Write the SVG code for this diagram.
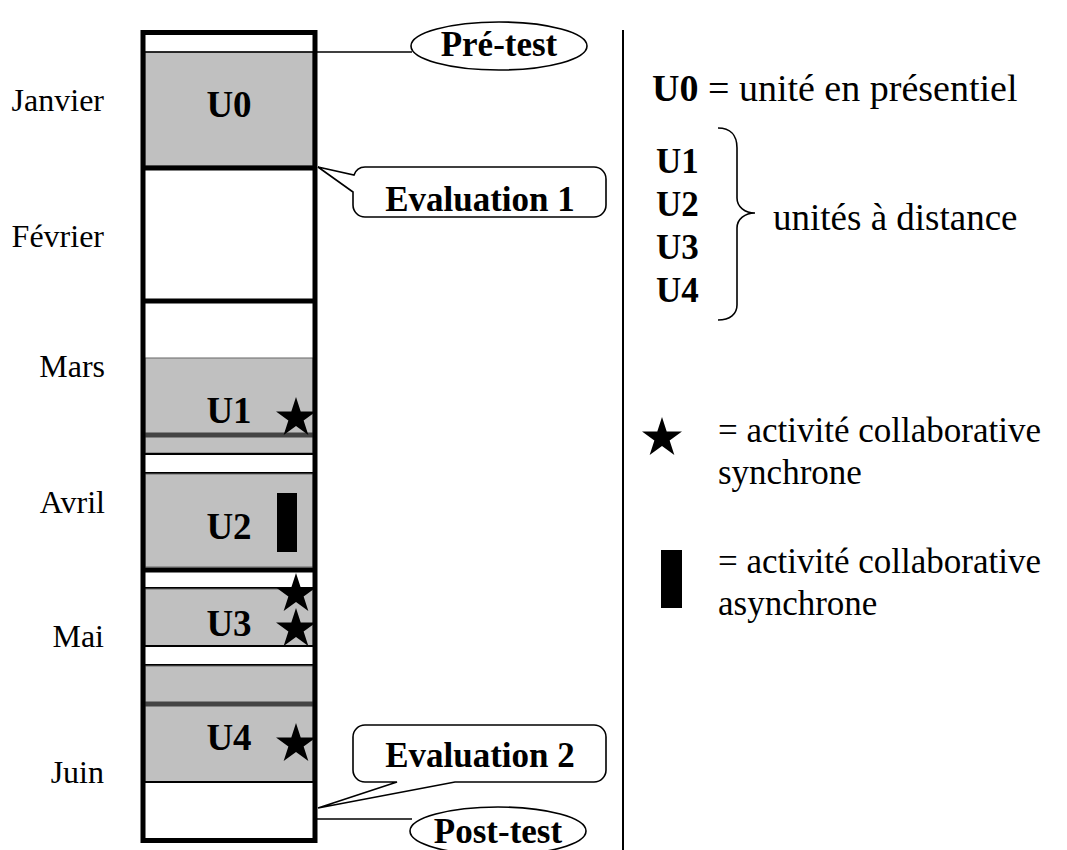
<svg xmlns="http://www.w3.org/2000/svg" width="1067" height="850" viewBox="0 0 1067 850">
<style>
.reg{font-family:"Liberation Serif","Times New Roman",serif;font-size:35px;fill:#000}
.mon{font-family:"Liberation Serif","Times New Roman",serif;font-size:32px;fill:#000;text-anchor:end}
.bold{font-family:"Liberation Serif","Times New Roman",serif;font-size:35px;font-weight:bold;fill:#000}
.ulab{font-family:"Liberation Serif","Times New Roman",serif;font-size:37px;font-weight:bold;fill:#000;text-anchor:middle}
.gray{fill:#c0c0c0;stroke:#666;stroke-width:1}
.thin{stroke:#000;stroke-width:2;fill:none}
.thick{stroke:#000;stroke-width:5;fill:none}
.dark{stroke:#444;stroke-width:5}
.shape{fill:#fff;stroke:#000;stroke-width:1.6}
</style>
<defs>
<path id="star" d="M0,-21 L4.71,-6.49 L19.97,-6.49 L7.63,2.48 L12.34,16.99 L0,8.02 L-12.34,16.99 L-7.63,2.48 L-19.97,-6.49 L-4.71,-6.49 Z" fill="#000"/>
</defs>
<rect width="1067" height="850" fill="#fff"/>

<g id="months">
<text class="mon" x="104" y="111">Janvier</text>
<text class="mon" x="104" y="247">Février</text>
<text class="mon" x="105" y="377">Mars</text>
<text class="mon" x="105" y="513">Avril</text>
<text class="mon" x="104" y="647">Mai</text>
<text class="mon" x="104" y="783">Juin</text>
</g>

<g id="timeline">
<rect x="143" y="32.5" width="172" height="808" fill="#fff"/>
<g id="U0">
<rect class="gray" x="145" y="52" width="168" height="114"/>
<text class="ulab" x="229" y="117">U0</text>
</g>
<line class="thick" x1="143" y1="168" x2="315" y2="168"/>
<line class="thick" x1="143" y1="301" x2="315" y2="301"/>
<g id="U1">
<rect class="gray" x="145" y="358" width="168" height="95"/>
<line class="dark" x1="145" y1="435" x2="313" y2="435"/>
<text class="ulab" x="229" y="423">U1</text>
<use href="#star" x="296" y="418"/>
</g>
<line class="thin" x1="145" y1="454" x2="313" y2="454"/>
<line class="thin" x1="145" y1="473" x2="313" y2="473"/>
<g id="U2">
<rect class="gray" x="145" y="474" width="168" height="93"/>
<text class="ulab" x="229" y="539">U2</text>
<rect x="277" y="493" width="20" height="59" fill="#000"/>
</g>
<line class="thick" x1="143" y1="570" x2="315" y2="570"/>
<line class="thin" x1="145" y1="588" x2="313" y2="588"/>
<g id="U3">
<rect class="gray" x="145" y="589" width="168" height="57"/>
<text class="ulab" x="229" y="636">U3</text>
<use href="#star" x="296" y="594"/>
<use href="#star" x="296" y="629"/>
</g>
<line class="thin" x1="145" y1="646" x2="313" y2="646"/>
<line class="thin" x1="145" y1="665" x2="313" y2="665"/>
<g id="U4">
<rect class="gray" x="145" y="666" width="168" height="116"/>
<line class="dark" x1="145" y1="704" x2="313" y2="704"/>
<text class="ulab" x="229" y="750">U4</text>
<use href="#star" x="296" y="744"/>
</g>
<line class="thin" x1="145" y1="782" x2="313" y2="782"/>
<rect class="thick" x="143" y="32.5" width="172" height="808"/>
</g>

<g id="connectors">
<line x1="145" y1="52" x2="412" y2="52" stroke="#000" stroke-width="1.6"/>
<line x1="317" y1="819" x2="412" y2="819" stroke="#000" stroke-width="1.6"/>
<line x1="623" y1="30" x2="623" y2="850" stroke="#000" stroke-width="2"/>
</g>

<g id="pretest">
<ellipse class="shape" cx="499" cy="46" rx="88" ry="24"/>
<text class="bold" x="499" y="56" text-anchor="middle">Pré-test</text>
</g>
<g id="eval1">
<path class="shape" d="M365,167 H594 A12,12 0 0 1 606,179 V205 A12,12 0 0 1 594,217 H365 A12,12 0 0 1 353,205 V192 L318,167 L354,175 A12,12 0 0 1 365,167 Z"/>
<text class="bold" x="480" y="211" text-anchor="middle">Evaluation 1</text>
</g>
<g id="eval2">
<path class="shape" d="M365,725 H594 A12,12 0 0 1 606,737 V770 A12,12 0 0 1 594,782 H455 L318,808 L397,782 H365 A12,12 0 0 1 353,770 V737 A12,12 0 0 1 365,725 Z"/>
<text class="bold" x="480" y="767" text-anchor="middle">Evaluation 2</text>
</g>
<g id="posttest">
<ellipse class="shape" cx="498" cy="831" rx="88" ry="24"/>
<text class="bold" x="498" y="843" text-anchor="middle">Post-test</text>
</g>

<g id="legend">
<text class="reg" x="652" y="101" style="font-size:38px"><tspan font-weight="bold">U0</tspan> = unité en présentiel</text>
<text class="bold" x="656" y="173">U1</text>
<text class="bold" x="656" y="216">U2</text>
<text class="bold" x="656" y="259">U3</text>
<text class="bold" x="656" y="302">U4</text>
<path d="M718,128 C730,128 737,135 737,148 V198 C737,207 745,213 755,213 C745,213 737,219 737,228 V305 C737,314 730,320 718,320" fill="none" stroke="#000" stroke-width="1.6"/>
<text class="reg" x="773" y="230" style="font-size:37px">unités à distance</text>
<use href="#star" x="662" y="438"/>
<text class="reg" x="718" y="442">= activité collaborative</text>
<text class="reg" x="718" y="484">synchrone</text>
<rect x="661" y="550" width="21" height="58" fill="#000"/>
<text class="reg" x="718" y="573">= activité collaborative</text>
<text class="reg" x="718" y="615">asynchrone</text>
</g>
</svg>
